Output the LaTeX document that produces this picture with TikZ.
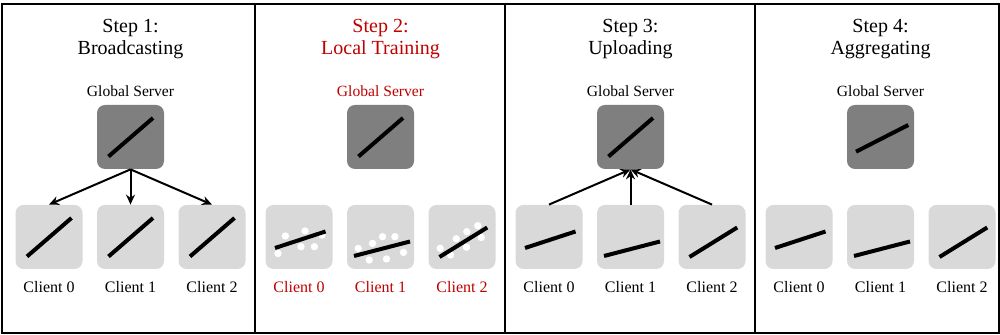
\documentclass[tikz,border=0pt]{standalone}
\usepackage{fontspec}
\setmainfont{LiberationSerif}[Extension=.ttf,UprightFont=*-Regular,BoldFont=*-Bold]
\newfontfamily\timesfont{LiberationSerif}[Extension=.ttf,UprightFont=*-Regular,BoldFont=*-Bold]
\usetikzlibrary{trees}
\usetikzlibrary{arrows.meta}
\definecolor{srvgray}{RGB}{127,127,127}
\definecolor{cligray}{RGB}{217,217,217}
\definecolor{stepred}{RGB}{192,0,0}
\newcommand{\wline}[4]{\draw[line width=2pt,shift={(path picture bounding box.center)}] (#1,#2) -- (#3,#4);}
\newcommand{\wdots}[1]{\foreach \x/\y in {#1} \fill[white,shift={(path picture bounding box.center)}] (\x,\y) circle (3.7);}

\begin{document}
\begin{tikzpicture}[x=0.5pt,y=0.5pt,
    box/.style={rounded corners=4pt,minimum width=33.5pt,minimum height=32pt,inner sep=0pt},
    server/.style={box,fill=srvgray},
    client/.style={box,fill=cligray},
    title/.style={align=center,font=\timesfont\fontsize{10}{11.4}\selectfont},
    every label/.style={inner sep=0pt},
    srvname/.style={font=\timesfont\fontsize{7.8}{9}\selectfont,yshift=4pt},
    cliname/.style={font=\timesfont\fontsize{8}{9}\selectfont,yshift=-5.75pt},
    winit/.style={path picture={\wline{-22}{-19.5}{22.5}{19}}},
    wagg/.style={path picture={\wline{-24.5}{-14.7}{27.8}{12}}},
    wc0/.style={path picture={\wline{-24}{-11}{26.5}{5.5}}},
    wc1/.style={path picture={\wline{-26.5}{-19}{29.5}{-4.5}}},
    wc2/.style={path picture={\wline{-22.5}{-20}{25.2}{9.5}}},
    dc0/.style={path picture={\wdots{-21/-16.5,-13.6/1,6/6,23/2,2/-9.7,15.4/-9.7}\wline{-24}{-11}{26.5}{5.5}}},
    dc1/.style={path picture={\wdots{-22.3/-11.4,-8/-6.4,2/0.3,14.4/0.3,-11.3/-23,6/-22,23/-15.4}\wline{-26.5}{-19}{29.5}{-4.5}}},
    dc2/.style={path picture={\wdots{-21.8/-11.3,-11.5/-18,-5.8/-1.8,4.8/5.3,15.8/11.3,19.2/-0.5,4.5/-10.2}\wline{-22.5}{-20}{25.2}{9.5}}},
    level distance=50pt,sibling distance=40.75pt,
    parent anchor=south,child anchor=north,
    push/.style={edge from parent/.style={draw,line width=1pt,-{Stealth[length=5pt,width=4.5pt]}}},
    pull/.style={edge from parent/.style={draw,line width=1pt,{Stealth[length=5pt,width=4.5pt]}-}},
    noedge/.style={edge from parent/.style={draw=none}}]
    \useasboundingbox (0,0) rectangle (1000,335);
    % frame and panels
    \draw[line width=0.6pt] (2,2) rectangle (999,331);
    \foreach \x in {255,505,755}
      \draw[line width=0.6pt] (\x,2) -- (\x,331);

    % step 1
    \begin{scope}[push]
    \node[title] (t1) at (130.5,296) {Step 1:\\Broadcasting};
    \node[server,winit,label={[srvname]above:Global Server}] (s1) at (130.5,198) {}
      child {node[client,winit,label={[cliname]below:Client 0}] {}}
      child {node[client,winit,label={[cliname]below:Client 1}] {}}
      child {node[client,winit,label={[cliname]below:Client 2}] {}};
    \end{scope}

    % step 2
    \begin{scope}[noedge,every label/.append style={text=stepred}]
    \node[title,text=stepred] (t2) at (380.5,296) {Step 2:\\Local Training};
    \node[server,winit,label={[srvname]above:Global Server}] (s2) at (380.5,198) {}
      child {node[client,dc0,label={[cliname]below:Client 0}] {}}
      child {node[client,dc1,label={[cliname]below:Client 1}] {}}
      child {node[client,dc2,label={[cliname]below:Client 2}] {}};
    \end{scope}

    % step 3
    \begin{scope}[pull]
    \node[title] (t3) at (630.5,296) {Step 3:\\Uploading};
    \node[server,winit,label={[srvname]above:Global Server}] (s3) at (630.5,198) {}
      child {node[client,wc0,label={[cliname]below:Client 0}] {}}
      child {node[client,wc1,label={[cliname]below:Client 1}] {}}
      child {node[client,wc2,label={[cliname]below:Client 2}] {}};
    \end{scope}

    % step 4
    \begin{scope}[noedge]
    \node[title] (t4) at (880.5,296) {Step 4:\\Aggregating};
    \node[server,wagg,label={[srvname]above:Global Server}] (s4) at (880.5,198) {}
      child {node[client,wc0,label={[cliname]below:Client 0}] {}}
      child {node[client,wc1,label={[cliname]below:Client 1}] {}}
      child {node[client,wc2,label={[cliname]below:Client 2}] {}};
    \end{scope}
\end{tikzpicture}
\end{document}
